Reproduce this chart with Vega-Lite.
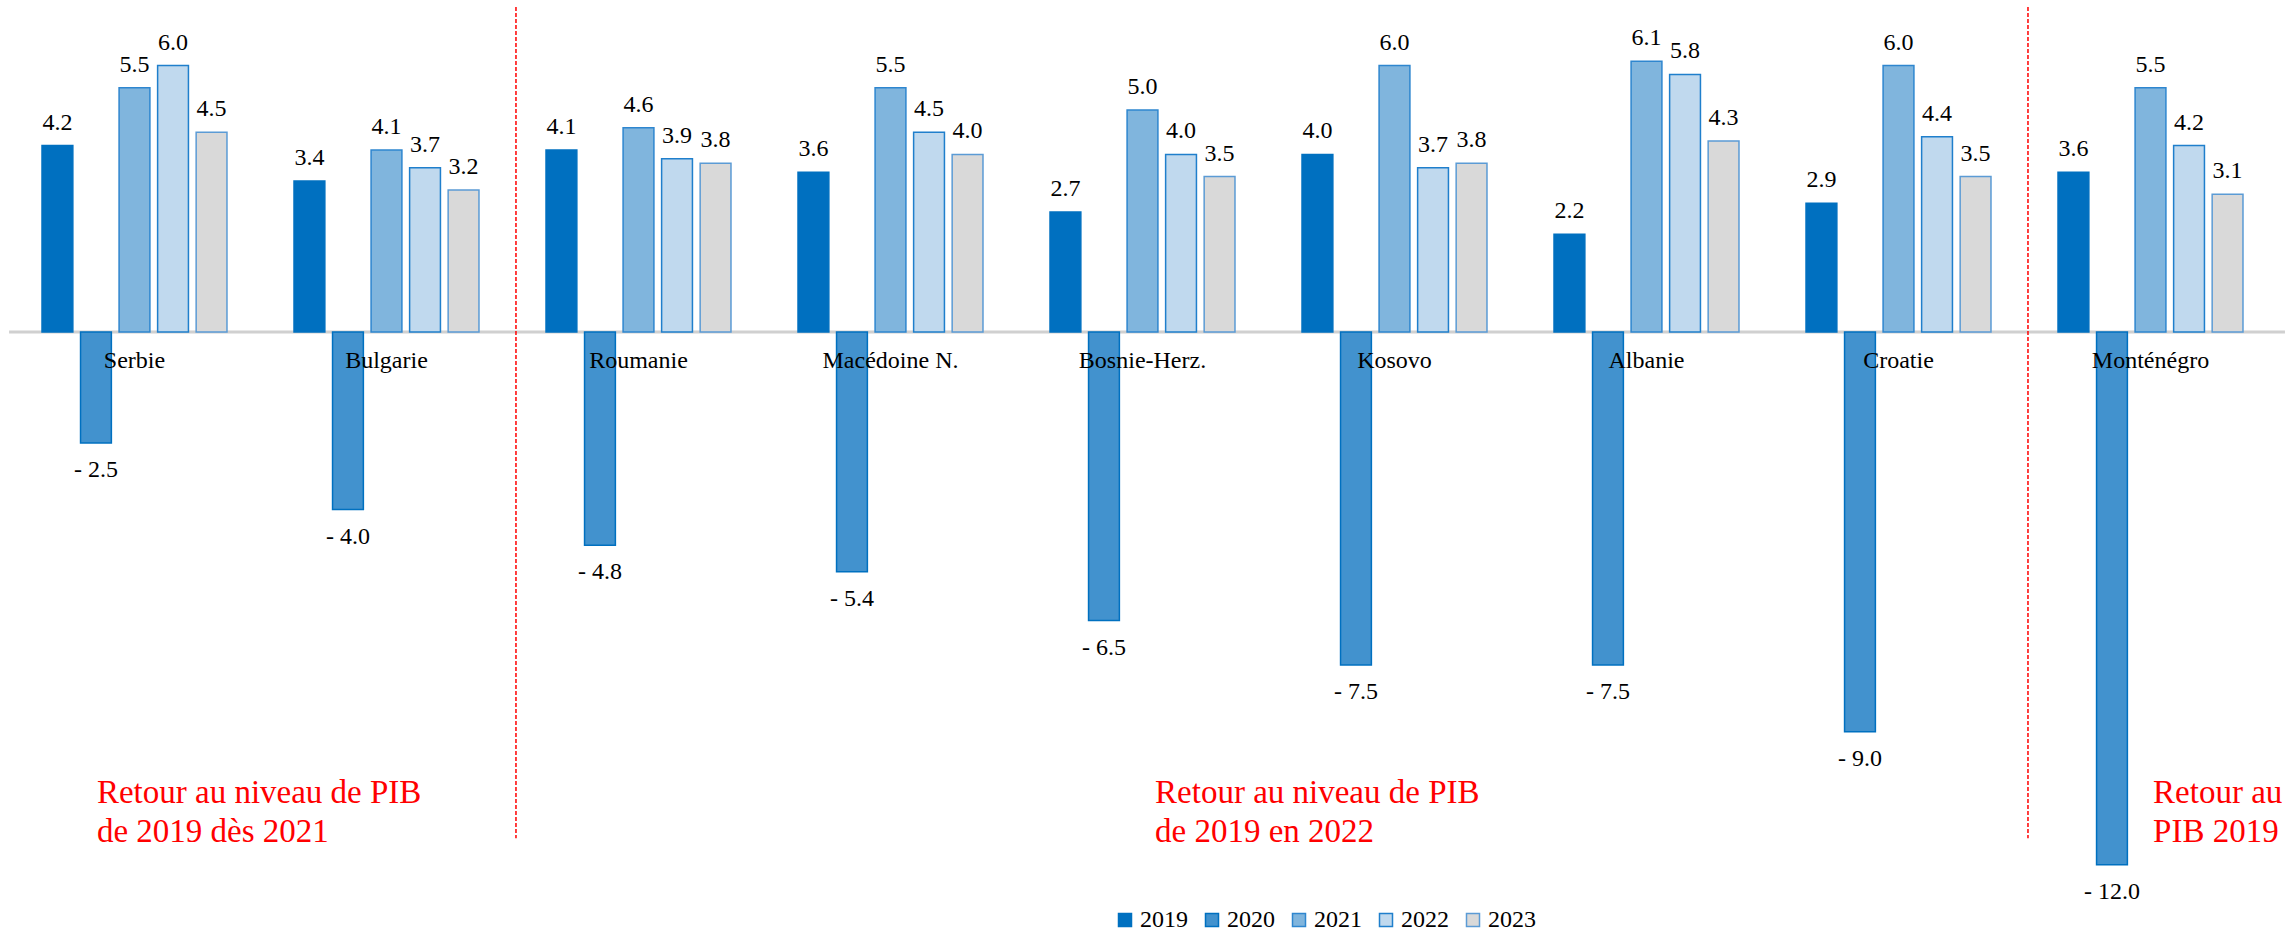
{
  "$schema": "https://vega.github.io/schema/vega-lite/v6.json",
  "width": 2285,
  "height": 931,
  "autosize": {"type": "none"},
  "padding": 0,
  "config": {
    "view": {"stroke": null},
    "font": "Liberation Serif",
    "text": {"font": "Liberation Serif"},
    "legend": {"labelFont": "Liberation Serif"},
    "locale": {"number": {"decimal": ".", "thousands": ",", "grouping": [3], "currency": ["", ""], "minus": "- "}}
  },
  "datasets": {
    "pib": [
      {"pays": "Serbie", "annee": "2019", "v": 4.2},
      {"pays": "Serbie", "annee": "2020", "v": -2.5},
      {"pays": "Serbie", "annee": "2021", "v": 5.5},
      {"pays": "Serbie", "annee": "2022", "v": 6.0},
      {"pays": "Serbie", "annee": "2023", "v": 4.5},
      {"pays": "Bulgarie", "annee": "2019", "v": 3.4},
      {"pays": "Bulgarie", "annee": "2020", "v": -4.0},
      {"pays": "Bulgarie", "annee": "2021", "v": 4.1},
      {"pays": "Bulgarie", "annee": "2022", "v": 3.7},
      {"pays": "Bulgarie", "annee": "2023", "v": 3.2},
      {"pays": "Roumanie", "annee": "2019", "v": 4.1},
      {"pays": "Roumanie", "annee": "2020", "v": -4.8},
      {"pays": "Roumanie", "annee": "2021", "v": 4.6},
      {"pays": "Roumanie", "annee": "2022", "v": 3.9},
      {"pays": "Roumanie", "annee": "2023", "v": 3.8},
      {"pays": "Macédoine N.", "annee": "2019", "v": 3.6},
      {"pays": "Macédoine N.", "annee": "2020", "v": -5.4},
      {"pays": "Macédoine N.", "annee": "2021", "v": 5.5},
      {"pays": "Macédoine N.", "annee": "2022", "v": 4.5},
      {"pays": "Macédoine N.", "annee": "2023", "v": 4.0},
      {"pays": "Bosnie-Herz.", "annee": "2019", "v": 2.7},
      {"pays": "Bosnie-Herz.", "annee": "2020", "v": -6.5},
      {"pays": "Bosnie-Herz.", "annee": "2021", "v": 5.0},
      {"pays": "Bosnie-Herz.", "annee": "2022", "v": 4.0},
      {"pays": "Bosnie-Herz.", "annee": "2023", "v": 3.5},
      {"pays": "Kosovo", "annee": "2019", "v": 4.0},
      {"pays": "Kosovo", "annee": "2020", "v": -7.5},
      {"pays": "Kosovo", "annee": "2021", "v": 6.0},
      {"pays": "Kosovo", "annee": "2022", "v": 3.7},
      {"pays": "Kosovo", "annee": "2023", "v": 3.8},
      {"pays": "Albanie", "annee": "2019", "v": 2.2},
      {"pays": "Albanie", "annee": "2020", "v": -7.5},
      {"pays": "Albanie", "annee": "2021", "v": 6.1},
      {"pays": "Albanie", "annee": "2022", "v": 5.8},
      {"pays": "Albanie", "annee": "2023", "v": 4.3},
      {"pays": "Croatie", "annee": "2019", "v": 2.9},
      {"pays": "Croatie", "annee": "2020", "v": -9.0},
      {"pays": "Croatie", "annee": "2021", "v": 6.0},
      {"pays": "Croatie", "annee": "2022", "v": 4.4},
      {"pays": "Croatie", "annee": "2023", "v": 3.5},
      {"pays": "Monténégro", "annee": "2019", "v": 3.6},
      {"pays": "Monténégro", "annee": "2020", "v": -12.0},
      {"pays": "Monténégro", "annee": "2021", "v": 5.5},
      {"pays": "Monténégro", "annee": "2022", "v": 4.2},
      {"pays": "Monténégro", "annee": "2023", "v": 3.1}
    ]
  },
  "data": {"name": "pib"},
  "encoding": {
    "x": {
      "field": "pays", "type": "nominal", "axis": null,
      "sort": ["Serbie", "Bulgarie", "Roumanie", "Macédoine N.", "Bosnie-Herz.", "Kosovo", "Albanie", "Croatie", "Monténégro"],
      "scale": {"paddingInner": 0.266, "paddingOuter": 0.1667}
    }
  },
  "layer": [
    {
      "data": {"values": [{}]},
      "mark": {"type": "rule", "color": "#D0D0D0", "strokeWidth": 3},
      "encoding": {
        "x": {"datum": "Serbie", "type": "nominal", "bandPosition": -0.178},
        "x2": {"datum": "Monténégro", "bandPosition": 1.227},
        "y": {"datum": 0, "type": "quantitative", "scale": {"domain": [-13.49, 7.477], "nice": false, "zero": false}, "axis": null}
      }
    },
    {
      "mark": {"type": "bar", "strokeWidth": 1.5},
      "encoding": {
        "xOffset": {"field": "annee", "type": "nominal", "scale": {"paddingInner": 0.2, "paddingOuter": 0}},
        "y": {"field": "v", "type": "quantitative", "axis": null},
        "fill": {
          "field": "annee", "type": "nominal",
          "scale": {"domain": ["2019", "2020", "2021", "2022", "2023"], "range": ["#0070C0", "#4292CE", "#80B5DD", "#C0D9EE", "#D9D9D9"]},
          "legend": {"title": null, "orient": "none", "legendX": 1113, "legendY": 908, "direction": "horizontal", "symbolType": "square", "symbolSize": 169, "symbolStrokeWidth": 1.5, "labelFontSize": 24, "labelFont": "Liberation Serif", "labelColor": "#000000", "labelOffset": 3, "columnPadding": 12}
        },
        "stroke": {
          "field": "annee", "type": "nominal",
          "scale": {"domain": ["2019", "2020", "2021", "2022", "2023"], "range": ["#0070C0", "#0070C0", "#2E86CF", "#1F7FCC", "#5B9BD5"]},
          "legend": {"title": null, "orient": "none", "legendX": 1113, "legendY": 908, "direction": "horizontal", "symbolType": "square", "symbolSize": 169, "symbolStrokeWidth": 1.5, "labelFontSize": 24, "labelFont": "Liberation Serif", "labelColor": "#000000", "labelOffset": 3, "columnPadding": 12}
        }
      }
    },
    {
      "transform": [{"filter": "datum.v > 0"}],
      "mark": {"type": "text", "font": "Liberation Serif", "fontSize": 24, "color": "#000000", "baseline": "alphabetic", "dy": -16},
      "encoding": {
        "xOffset": {"field": "annee", "type": "nominal"},
        "y": {"field": "v", "type": "quantitative"},
        "text": {"field": "v", "type": "quantitative", "format": ".1f"}
      }
    },
    {
      "transform": [{"filter": "datum.v < 0"}],
      "mark": {"type": "text", "font": "Liberation Serif", "fontSize": 24, "color": "#000000", "baseline": "alphabetic", "dy": 34},
      "encoding": {
        "xOffset": {"field": "annee", "type": "nominal"},
        "y": {"field": "v", "type": "quantitative"},
        "text": {"field": "v", "type": "quantitative", "format": ".1f"}
      }
    },
    {
      "transform": [{"filter": "datum.annee == '2019'"}],
      "mark": {"type": "text", "font": "Liberation Serif", "fontSize": 24, "color": "#000000", "baseline": "alphabetic", "dy": 36},
      "encoding": {
        "y": {"datum": 0, "type": "quantitative"},
        "text": {"field": "pays", "type": "nominal"}
      }
    },
    {
      "data": {"values": [{}]},
      "mark": {"type": "rule", "color": "#FF0000", "strokeWidth": 1.5, "strokeDash": [4, 2]},
      "encoding": {
        "x": {"datum": "Bulgarie", "type": "nominal", "bandPosition": 1.2},
        "y": {"datum": 7.32, "type": "quantitative"},
        "y2": {"datum": -11.4}
      }
    },
    {
      "data": {"values": [{}]},
      "mark": {"type": "rule", "color": "#FF0000", "strokeWidth": 1.5, "strokeDash": [4, 2]},
      "encoding": {
        "x": {"datum": "Croatie", "type": "nominal", "bandPosition": 1.2},
        "y": {"datum": 7.32, "type": "quantitative"},
        "y2": {"datum": -11.4}
      }
    },
    {
      "data": {"values": [{}]},
      "mark": {"type": "text", "text": ["Retour au niveau de PIB", "de 2019 dès 2021"], "font": "Liberation Serif", "fontSize": 33, "lineHeight": 39, "color": "#FF0000", "align": "left", "baseline": "alphabetic"},
      "encoding": {
        "x": {"datum": "Serbie", "type": "nominal", "bandPosition": 0.297},
        "y": {"datum": -10.61, "type": "quantitative"}
      }
    },
    {
      "data": {"values": [{}]},
      "mark": {"type": "text", "text": ["Retour au niveau de PIB", "de 2019 en 2022"], "font": "Liberation Serif", "fontSize": 33, "lineHeight": 39, "color": "#FF0000", "align": "left", "baseline": "alphabetic"},
      "encoding": {
        "x": {"datum": "Bosnie-Herz.", "type": "nominal", "bandPosition": 0.568},
        "y": {"datum": -10.61, "type": "quantitative"}
      }
    },
    {
      "data": {"values": [{}]},
      "mark": {"type": "text", "text": ["Retour au", "PIB 2019"], "font": "Liberation Serif", "fontSize": 33, "lineHeight": 39, "color": "#FF0000", "align": "left", "baseline": "alphabetic"},
      "encoding": {
        "x": {"datum": "Monténégro", "type": "nominal", "bandPosition": 0.514},
        "y": {"datum": -10.61, "type": "quantitative"}
      }
    }
  ]
}
